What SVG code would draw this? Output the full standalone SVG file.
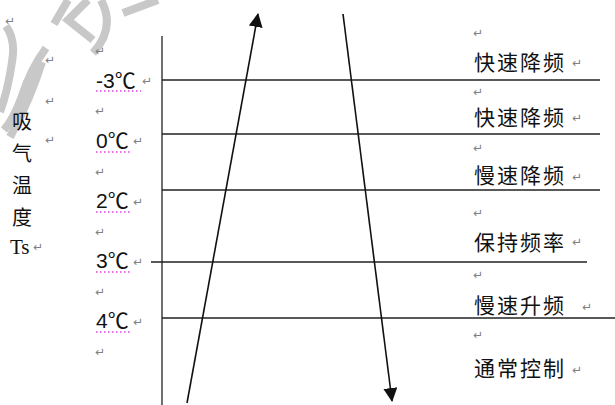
<svg xmlns="http://www.w3.org/2000/svg" width="615" height="405" viewBox="0 0 615 405">
<style>
.cjk{font-family:"Noto Sans CJK SC","Noto Sans CJK JP",sans-serif;font-size:20px;fill:#111}
.tmp{font-family:"Liberation Sans","DejaVu Sans","Noto Sans CJK SC",sans-serif;font-size:21px;fill:#111}
.deg{font-family:"Noto Sans CJK SC",sans-serif}
.ts{font-family:"Liberation Serif",serif;font-size:21px;fill:#111}
.rt{font-family:"DejaVu Sans",sans-serif;font-size:12px;fill:#808080}
.ln{stroke:#222;stroke-width:1.3;fill:none}
.ul{stroke:#e040e0;stroke-width:1.5;stroke-dasharray:1.5 2.5;fill:none}
.wm{stroke:#c8c8c8;stroke-width:8;fill:none;stroke-linecap:butt}
.ar{stroke:#111;stroke-width:1.6;fill:none}
</style>
<defs>
<marker id="ah" markerUnits="userSpaceOnUse" markerWidth="14" markerHeight="14" viewBox="0 0 14 14" refX="13" refY="7" orient="auto">
<path d="M0,0 L14,7 L0,14 z" fill="#111"/>
</marker>
</defs>
<rect width="615" height="405" fill="#fff"/>
<g id="watermark">
<path class="wm" d="M6,26 Q16,40 12,62 Q8,90 0,112"/>
<path class="wm" d="M46,48 Q30,70 22,96 Q14,118 4,130"/>
<path class="wm" d="M42,62 Q30,100 10,137"/>
<path class="wm" d="M54,24 L68,0"/>
<path class="wm" d="M88,0 L68,20 L93,40"/>
<path class="wm" d="M101,0 Q116,28 93,53"/>
<path class="wm" d="M123,13 L158,0"/>
</g>
<g id="axis">
<line class="ln" x1="162" y1="36" x2="162" y2="405"/>
<line class="ln" x1="162" y1="80" x2="600" y2="80"/>
<line class="ln" x1="162" y1="134" x2="600" y2="134"/>
<line class="ln" x1="162" y1="190" x2="600" y2="190"/>
<line class="ln" x1="151" y1="262" x2="587" y2="262"/>
<line class="ln" x1="162" y1="318" x2="615" y2="318"/>
</g>
<g id="ylabel">
<text class="cjk" x="12" y="129">吸</text>
<text class="cjk" x="12" y="161">气</text>
<text class="cjk" x="12" y="193">温</text>
<text class="cjk" x="12" y="225">度</text>
<text class="ts" x="10" y="254">Ts</text>
<text class="rt" x="33" y="251">↵</text>
</g>
<g id="temps">
<text class="tmp" x="96" y="88">-3<tspan class="deg">℃</tspan></text>
<text class="tmp" x="96" y="148">0<tspan class="deg">℃</tspan></text>
<text class="tmp" x="96" y="208">2<tspan class="deg">℃</tspan></text>
<text class="tmp" x="96" y="268">3<tspan class="deg">℃</tspan></text>
<text class="tmp" x="96" y="328">4<tspan class="deg">℃</tspan></text>
<path class="ul" d="M96,91 H141 M96,152 H132 M96,212 H132 M96,272 H132 M96,332 H132"/>
</g>
<g id="zones">
<text class="cjk" x="474" y="70" style="font-size:21px;letter-spacing:2px">快速降频</text>
<text class="cjk" x="474" y="125" style="font-size:21px;letter-spacing:2px">快速降频</text>
<text class="cjk" x="474" y="183" style="font-size:21px;letter-spacing:2px">慢速降频</text>
<text class="cjk" x="474" y="250" style="font-size:21px;letter-spacing:2px">保持频率</text>
<text class="cjk" x="474" y="313" style="font-size:21px;letter-spacing:2px">慢速升频</text>
<text class="cjk" x="474" y="376" style="font-size:21px;letter-spacing:2px">通常控制</text>
</g>
<g id="marks">
<text class="rt" x="5" y="25">↵</text>
<text class="rt" x="45" y="64">↵</text>
<text class="rt" x="45" y="105">↵</text>
<text class="rt" x="45" y="144">↵</text>
<text class="rt" x="95" y="55">↵</text>
<text class="rt" x="95" y="115">↵</text>
<text class="rt" x="95" y="176">↵</text>
<text class="rt" x="95" y="236">↵</text>
<text class="rt" x="95" y="296">↵</text>
<text class="rt" x="95" y="356">↵</text>
<text class="rt" x="142" y="85">↵</text>
<text class="rt" x="133" y="145">↵</text>
<text class="rt" x="133" y="206">↵</text>
<text class="rt" x="133" y="266">↵</text>
<text class="rt" x="133" y="326">↵</text>
<text class="rt" x="473" y="37">↵</text>
<text class="rt" x="473" y="96">↵</text>
<text class="rt" x="473" y="152">↵</text>
<text class="rt" x="473" y="217">↵</text>
<text class="rt" x="473" y="279">↵</text>
<text class="rt" x="473" y="339">↵</text>
<text class="rt" x="572" y="67">↵</text>
<text class="rt" x="572" y="122">↵</text>
<text class="rt" x="572" y="181">↵</text>
<text class="rt" x="572" y="246">↵</text>
<text class="rt" x="582" y="311">↵</text>
<text class="rt" x="572" y="374">↵</text>
</g>
<g id="connectors">
<line class="ar" x1="187" y1="403" x2="258" y2="14" marker-end="url(#ah)"/>
<line class="ar" x1="343" y1="14" x2="392" y2="401" marker-end="url(#ah)"/>
</g>
</svg>
